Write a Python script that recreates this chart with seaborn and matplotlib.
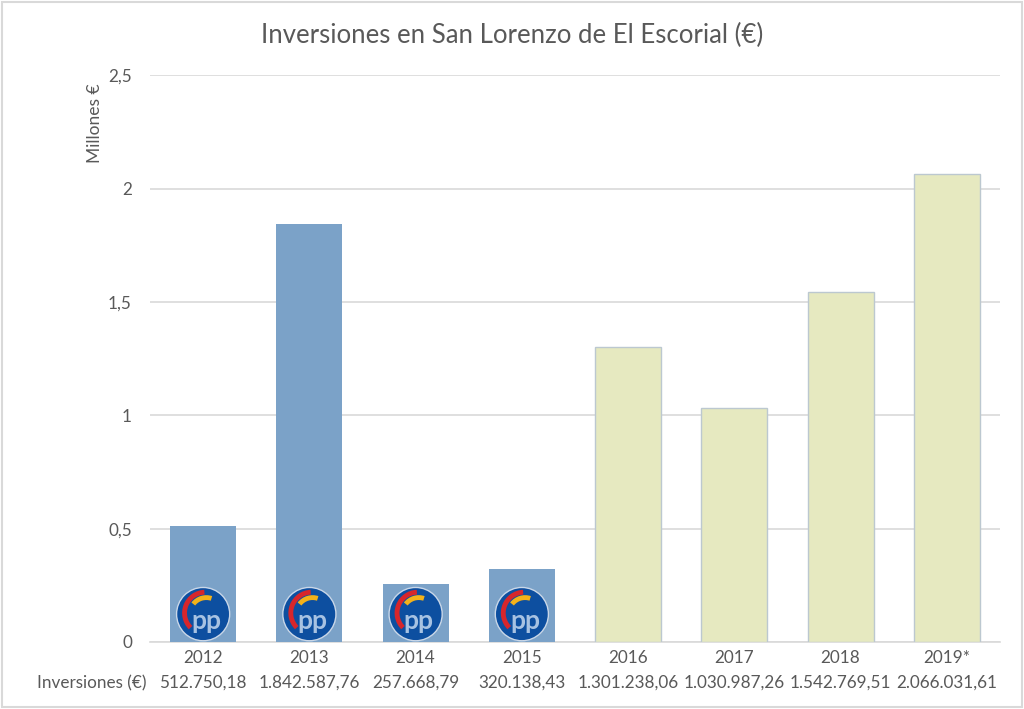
import pandas as pd
import matplotlib.pyplot as plt
import seaborn as sns
from matplotlib.patches import Ellipse, Arc, Rectangle

# data
years = ["2012", "2013", "2014", "2015", "2016", "2017", "2018", "2019*"]
inversiones = [512750.18, 1842587.76, 257668.79, 320138.43,
               1301238.06, 1030987.26, 1542769.51, 2066031.61]
grupo = ["PP", "PP", "PP", "PP", "otro", "otro", "otro", "otro"]
yticks = [0, 0.5, 1, 1.5, 2, 2.5]
ytick_labels = ["0", "0,5", "1", "1,5", "2", "2,5"]

df = pd.DataFrame({"year": years, "millones": [v / 1e6 for v in inversiones], "grupo": grupo})


def fmt_es(v):
    s = f"{v:,.2f}"
    return s.replace(",", "X").replace(".", ",").replace("X", ".")


sns.set_style("white")
plt.rcParams["font.family"] = ["Lato", "DejaVu Sans"]
gray = "#595959"

fig = plt.figure(figsize=(10.24, 7.09), dpi=100)
ax = fig.add_axes([0.1465, 0.0945, 0.83, 0.7995])

sns.barplot(data=df, x="year", y="millones", hue="grupo", dodge=False,
            palette={"PP": "#7ba2c8", "otro": "#e6e9c0"}, width=0.62,
            saturation=1, legend=False, ax=ax, zorder=3)

for bar, g in zip(ax.patches, grupo):
    if g == "otro":
        bar.set_edgecolor("#bcc8d0")
        bar.set_linewidth(1.0)
    else:
        bar.set_edgecolor("none")

ax.set_ylim(0, 2.5)
ax.set_xlim(-0.5, len(years) - 0.5)
ax.set_yticks(yticks)
ax.set_yticklabels(ytick_labels)
ax.grid(axis="y", color="#d9d9d9", linewidth=1.2, zorder=0)
ax.set_axisbelow(True)
for s in ["top", "right", "left"]:
    ax.spines[s].set_visible(False)
ax.spines["bottom"].set_color("#d9d9d9")
ax.spines["bottom"].set_linewidth(1.2)
ax.tick_params(axis="both", length=0, labelsize=12.3, colors=gray)
ax.tick_params(axis="y", pad=13)
ax.tick_params(axis="x", pad=6)
ax.set_xlabel("")
ax.set_ylabel("")

# PP logos
for i, g in enumerate(grupo):
    if g != "PP":
        continue
    cy = 0.123
    w, h = 0.50, 0.235
    ax.add_patch(Ellipse((i, cy), w, h, facecolor="#0d4fa0", edgecolor="#c9d7e8",
                         linewidth=1, zorder=4))
    ax.add_patch(Arc((i + 0.02, cy + 0.005), w * 0.78, h * 0.78, theta1=95, theta2=205,
                     color="#d7262b", linewidth=3.5, zorder=5))
    ax.add_patch(Arc((i + 0.03, cy + 0.0), w * 0.62, h * 0.62, theta1=55, theta2=160,
                     color="#f4b219", linewidth=3.5, zorder=5))
    ax.text(i + 0.03, cy - 0.03, "pp", ha="center", va="center", fontsize=19,
            fontweight="bold", color="#a7c2e2", zorder=6)

# title and labels
fig.text(0.5, 0.95, "Inversiones en San Lorenzo de El Escorial (€)", ha="center",
         va="center", fontsize=18.5, color=gray)
fig.text(0.093, 0.826, "Millones €", rotation=90, ha="center", va="center",
         fontsize=12.5, color=gray)

# table row under the axis
fig.text(92 / 1024, 1 - 683 / 709, "Inversiones (€)", ha="center", va="center",
         fontsize=12.3, color=gray)
for i, v in enumerate(inversiones):
    ax.text(i, -0.181, fmt_es(v), ha="center", va="center", fontsize=12.3,
            color=gray, transform=ax.transData, clip_on=False)

# outer border
fig.patches.append(Rectangle((0.002, 0.003), 0.996, 0.994, transform=fig.transFigure,
                             fill=False, edgecolor="#d9d9d9", linewidth=1.5))

fig.savefig("out.png", dpi=100)
